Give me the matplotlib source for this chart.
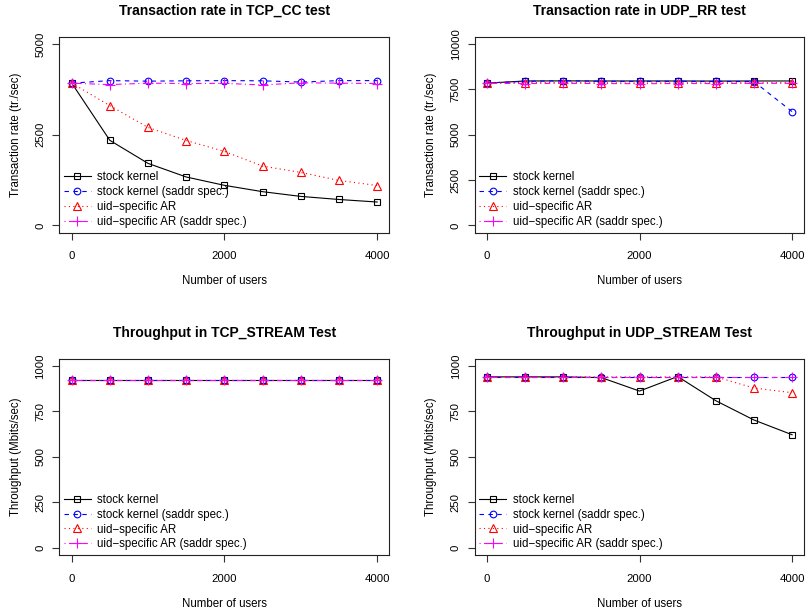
import matplotlib
matplotlib.use("Agg")
import matplotlib.pyplot as plt
import numpy as np

plt.rcParams['font.family'] = ['Liberation Sans', 'DejaVu Sans']

users = [0, 500, 1000, 1500, 2000, 2500, 3000, 3500, 4000]
series_names = ["stock kernel", "stock kernel (saddr spec.)",
                "uid\u2212specific AR", "uid\u2212specific AR (saddr spec.)"]

# TCP_CC transaction rate
tcpcc_stock = [3925, 2345, 1710, 1335, 1105, 930, 800, 715, 645]
tcpcc_stock_saddr = [3920, 3990, 3975, 3985, 3990, 3985, 3950, 3990, 3990]
tcpcc_uid = [3925, 3300, 2700, 2340, 2040, 1635, 1460, 1240, 1100]
tcpcc_uid_saddr = [3920, 3880, 3920, 3910, 3915, 3870, 3930, 3920, 3910]

# UDP_RR transaction rate
udprr_stock = [7840, 7960, 7965, 7960, 7960, 7960, 7955, 7960, 7960]
udprr_stock_saddr = [7850, 7940, 7975, 7940, 7940, 7940, 7935, 7930, 6270]
udprr_uid = [7860, 7870, 7870, 7860, 7850, 7860, 7860, 7860, 7870]
udprr_uid_saddr = [7830, 7820, 7830, 7820, 7810, 7820, 7820, 7830, 7830]

# TCP_STREAM throughput
tcps_stock = [922, 922, 922, 922, 922, 922, 922, 922, 922]
tcps_stock_saddr = [923, 923, 923, 923, 923, 923, 923, 923, 923]
tcps_uid = [924, 924, 924, 924, 924, 924, 924, 924, 924]
tcps_uid_saddr = [921, 921, 921, 921, 921, 921, 921, 921, 921]

# UDP_STREAM throughput
udps_stock = [939, 939, 939, 935, 861, 941, 808, 702, 621]
udps_stock_saddr = [941, 941, 941, 941, 941, 941, 941, 941, 941]
udps_uid = [939, 939, 939, 939, 939, 939, 939, 878, 852]
udps_uid_saddr = [940, 940, 940, 940, 940, 940, 940, 940, 940]

panels = [
    ("Transaction rate in TCP_CC test", "Transaction rate (tr./sec)", [0, 2500, 5000],
     [tcpcc_stock, tcpcc_stock_saddr, tcpcc_uid, tcpcc_uid_saddr]),
    ("Transaction rate in UDP_RR test", "Transaction rate (tr./sec)", [0, 2500, 5000, 7500, 10000],
     [udprr_stock, udprr_stock_saddr, udprr_uid, udprr_uid_saddr]),
    ("Throughput in TCP_STREAM Test", "Throughput (Mbits/sec)", [0, 250, 500, 750, 1000],
     [tcps_stock, tcps_stock_saddr, tcps_uid, tcps_uid_saddr]),
    ("Throughput in UDP_STREAM Test", "Throughput (Mbits/sec)", [0, 250, 500, 750, 1000],
     [udps_stock, udps_stock_saddr, udps_uid, udps_uid_saddr]),
]

styles = [
    dict(color="black", linestyle="-", marker="s", markersize=4.5, mfc="none"),
    dict(color="blue", linestyle=(0, (4, 4)), marker="o", markersize=4.8, mfc="none"),
    dict(color="red", linestyle=(0, (1, 3)), marker="^", markersize=6, mfc="none"),
    dict(color="magenta", linestyle=(0, (1, 3, 5, 3)), marker="+", markersize=7),
]

W, H = 808, 615
fig = plt.figure(figsize=(W / 100, H / 100), dpi=100)
boxes = [(59.4, 36.7, 389.4, 232.7), (474.7, 36.7, 804.3, 232.7),
         (59.4, 358.5, 389.4, 555), (474.7, 358.5, 804.3, 555)]

for (title, ylabel, yticks, data), (x0, y0, x1, y1) in zip(panels, boxes):
    ax = fig.add_axes([x0 / W, 1 - y1 / H, (x1 - x0) / W, (y1 - y0) / H])
    for vals, name, st in zip(data, series_names, styles):
        ax.plot(users, vals, linewidth=0.8, markeredgewidth=0.8, label=name, **st)
    ymax = yticks[-1]
    ax.set_xlim(-160, 4160)
    ax.set_ylim(-0.04 * ymax, 1.04 * ymax)
    ax.set_xticks([0, 2000, 4000])
    ax.set_yticks(yticks)
    ax.set_yticklabels([str(t) for t in yticks], rotation=90, va="center")
    ax.tick_params(direction="out", length=5, width=0.8, labelsize=8.2, color="#333333")
    ax.tick_params(axis="x", pad=8.5)
    ax.tick_params(axis="y", pad=5)
    for s in ax.spines.values():
        s.set_linewidth(0.8)
        s.set_color("#222222")
    ax.set_title(title, fontsize=10, fontweight="bold", pad=15.5)
    ax.set_xlabel("Number of users", fontsize=8.3, labelpad=10)
    ax.set_ylabel(ylabel, fontsize=8.3, labelpad=10)
    ax.legend(loc="lower left", frameon=False, fontsize=8.3, borderaxespad=0.05,
              handlelength=2.3, handletextpad=0.6, labelspacing=0.25, borderpad=0.35)

fig.savefig("out.png", dpi=100)
